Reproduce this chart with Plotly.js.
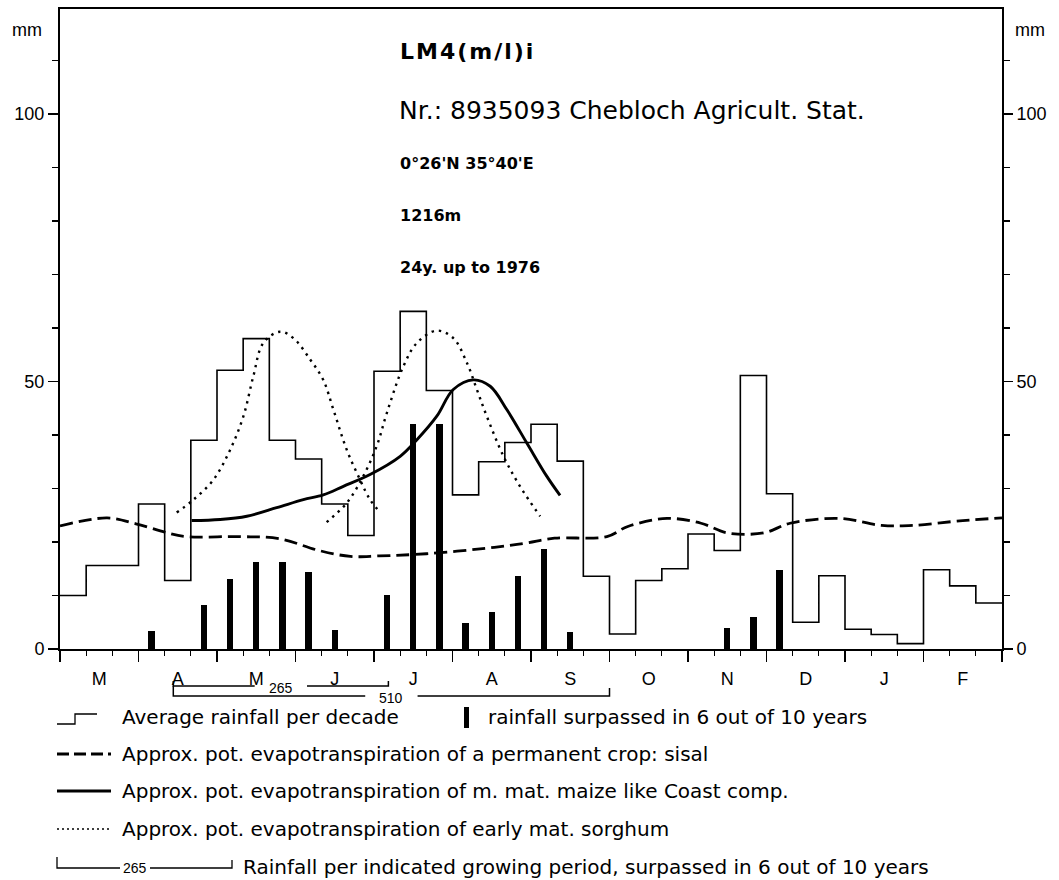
<!DOCTYPE html>
<html>
<head>
<meta charset="utf-8">
<script src="https://cdn.plot.ly/plotly-3.0.1.min.js"></script>
<style>html,body{margin:0;padding:0;background:#fff;}#chart{width:1059px;height:880px;}</style>
</head>
<body>
<div id="chart"></div>
<script>
// ---- data ----
const monthLabels = ['M','A','M','J','J','A','S','O','N','D','J','F'];
// average rainfall per decade (mm), 36 decades March..February
const avgRain = [10,15.6,15.6,27.1,12.8,39,52.1,58,39,35.5,27.1,21.2,
                 51.9,63.1,48.3,28.8,35,38.6,42,35.1,13.6,2.8,12.8,15,
                 21.5,18.4,51.1,29,5,13.7,3.7,2.7,1,14.8,11.8,8.6];
// rainfall surpassed in 6 out of 10 years (mm), per decade
const rain60 = [0,0,0,3.3,0,8.2,13.1,16.2,16.2,14.4,3.5,0,
                10,42.1,42.1,4.9,7,13.6,18.6,3.1,0,0,0,0,
                0,3.9,5.9,14.7,0,0,0,0,0,0,0,0];
// sisal (permanent crop) evapotranspiration; x in decades from 1 March
const sisalX = [0,1.8,2.9,4.1,4.8,6.9,8.4,9.9,11.1,12.2,14.0,16.6,17.8,18.9,20.9,21.7,23.2,24.5,25.5,26.9,27.9,29.8,31.4,32.6,34.5,36];
const sisalY = [23,24.5,23.4,21.7,21,21,20.6,18.4,17.3,17.4,17.8,19,19.8,20.7,21,22.9,24.4,23.5,21.7,21.7,23.5,24.4,23.1,23.1,24,24.5];
// medium maturity maize
const maizeX = [5.03,6.12,7.14,8.28,9.30,10.06,10.83,11.85,13.0,13.64,14.40,15.03,15.80,16.44,17.08,17.84,18.60,19.11];
const maizeY = [24.0,24.2,24.8,26.4,27.9,28.8,30.4,32.6,36,39.1,43.5,48.5,50.3,49.1,44.7,38.5,32.3,28.7];
// early maturity sorghum, first and second season
const sorg1X = [4.46,5.10,5.86,6.50,7.01,7.39,7.77,8.41,8.92,9.56,10.06,10.45,10.96,11.47,11.85,12.21];
const sorg1Y = [25.5,27.9,31.6,37.2,43.5,51,57.2,59.3,58.1,54.1,50.3,44.7,37.2,31.6,27.9,25.7];
const sorg2X = [10.19,10.96,11.59,12.11,12.49,13.12,13.64,14.40,15.03,15.55,15.93,16.31,16.95,17.58,18.35];
const sorg2Y = [23.7,27.3,32.3,38,44.1,52.8,57.2,59.5,58.1,53.5,48.5,43.5,36,30.4,24.8];
// rainfall per indicated growing period (mm)
const periodValues = [265, 510];
const periodStart = [4.33, 4.33];
const periodEnd = [12.55, 21.0];
const yTickVals = [0, 50, 100];

// ---- layout geometry ----
const G = {W:1059, H:880, l:60, r:57, t:9, b:231};
const PW = G.W - G.l - G.r, PH = G.H - G.t - G.b;
const PX = x => (x - G.l) / PW;
const PY = y => (G.H - G.b - y) / PH;
const YMAX = 119.6;
const FONT = 'Liberation Sans, Arial, sans-serif';
const WIDE = 'DejaVu Sans, sans-serif';

const nDec = avgRain.length;
const decEdges = Array.from({length: nDec + 1}, (_, i) => i);
const decCenters = Array.from({length: nDec}, (_, i) => i + 0.5);
const monthEdges = Array.from({length: monthLabels.length + 1}, (_, i) => i * 3);
const monthCenters = monthLabels.map((_, i) => i * 3 + 1.5);

const dotted = {shape:'spline', smoothing:1, color:'#000', width:2.4, dash:'2.4px,5px'};
const traces = [
  {type:'bar', x: decCenters, y: rain60, width: 0.24, marker:{color:'#000', line:{width:0}},
   hoverinfo:'x+y', showlegend:false},
  {type:'scatter', mode:'lines', x: decEdges, y: avgRain.concat([avgRain[nDec-1]]),
   line:{shape:'hv', color:'#000', width:1.6}, showlegend:false},
  {type:'scatter', mode:'lines', x: sisalX, y: sisalY,
   line:{shape:'spline', smoothing:1, color:'#000', width:2.8, dash:'13px,6px'}, showlegend:false},
  {type:'scatter', mode:'lines', x: maizeX, y: maizeY,
   line:{shape:'spline', smoothing:1, color:'#000', width:2.9}, showlegend:false},
  {type:'scatter', mode:'lines', x: sorg1X, y: sorg1Y, line: dotted, showlegend:false},
  {type:'scatter', mode:'lines', x: sorg2X, y: sorg2Y, line: dotted, showlegend:false},
  {type:'scatter', mode:'markers', x:[0], y:[0], xaxis:'x2', yaxis:'y2',
   marker:{opacity:0}, hoverinfo:'skip', showlegend:false}
];

const shapes = [];
const annotations = [];

// growing-period brackets under the axis (line broken around the value label)
const bracketTop = [681, 686], bracketLine = [686, 696], bracketRightTop = [681, 688];
const labelGap = 1.0; // half-gap in decades around the label
periodValues.forEach((v, i) => {
  const mid = (periodStart[i] + periodEnd[i]) / 2;
  const yl = PY(bracketLine[i]);
  shapes.push({type:'path', xref:'x', yref:'paper',
    path:`M ${periodStart[i]},${PY(bracketTop[i])} L ${periodStart[i]},${yl} L ${mid - labelGap},${yl}`,
    line:{color:'#000', width:1.5}});
  shapes.push({type:'path', xref:'x', yref:'paper',
    path:`M ${mid + labelGap},${yl} L ${periodEnd[i]},${yl} L ${periodEnd[i]},${PY(bracketRightTop[i])}`,
    line:{color:'#000', width:1.5}});
  annotations.push({xref:'x', yref:'paper', x:mid, y:PY(bracketLine[i] + 1.5),
    text:String(v), showarrow:false, font:{family:FONT, size:14, color:'#000'},
    borderpad:0, xanchor:'center', yanchor:'middle'});
});

// header texts
function txt(text, x, y, size, family, extra) {
  annotations.push(Object.assign({xref:'paper', yref:'paper', x:PX(x), y:PY(y), text:text,
    showarrow:false, xanchor:'left', yanchor:'middle', align:'left',
    font:{family:family||WIDE, size:size, color:'#000'}}, extra||{}));
}
txt('<b>LM4(m/l)i</b>', 398, 51, 22);
txt('Nr.: 8935093 Chebloch Agricult. Stat.', 397, 110, 25);
txt('<b>0°26\'N 35°40\'E</b>', 398, 163, 16);
txt('<b>1216m</b>', 398, 215, 16);
txt('<b>24y. up to 1976</b>', 398, 267, 16);
txt('mm', 27, 30, 18, FONT, {xanchor:'center', align:'center'});
txt('mm', 1030, 30, 18, FONT, {xanchor:'center', align:'center'});

// legend
const LF = 20;
function seg(x0, y0, x1, y1, w, dash) {
  shapes.push({type:'line', xref:'paper', yref:'paper', x0:PX(x0), y0:PY(y0), x1:PX(x1), y1:PY(y1),
    line:{color:'#000', width:w, dash:dash||'solid'}});
}
// row 1
shapes.push({type:'path', xref:'paper', yref:'paper',
  path:`M ${PX(57)},${PY(724)} L ${PX(75)},${PY(724)} L ${PX(75)},${PY(714)} L ${PX(97)},${PY(714)}`,
  line:{color:'#000', width:1.3}});
txt('Average rainfall per decade', 120, 717, LF);
shapes.push({type:'rect', xref:'paper', yref:'paper', x0:PX(464), x1:PX(469), y0:PY(707), y1:PY(728),
  fillcolor:'#000', line:{width:0}});
txt('rainfall surpassed in 6 out of 10 years', 486, 717, LF);
// row 2
seg(57, 754, 111, 754, 3, '12px,5px');
txt('Approx. pot. evapotranspiration of a permanent crop: sisal', 120, 754, LF);
// row 3
seg(57, 791, 111, 791, 3);
txt('Approx. pot. evapotranspiration of m. mat. maize like Coast comp.', 120, 791, LF);
// row 4
seg(57, 829, 111, 829, 1.5, '2px,3px');
txt('Approx. pot. evapotranspiration of early mat. sorghum', 120, 829, LF);
// row 5
shapes.push({type:'path', xref:'paper', yref:'paper',
  path:`M ${PX(57)},${PY(857)} L ${PX(57)},${PY(868)} L ${PX(120)},${PY(868)} M ${PX(150)},${PY(868)} L ${PX(232)},${PY(868)} L ${PX(232)},${PY(860)}`,
  line:{color:'#000', width:1.3}});
annotations.push({xref:'paper', yref:'paper', x:PX(135), y:PY(868), text:String(periodValues[0]),
  showarrow:false, font:{family:FONT, size:14, color:'#000'}, borderpad:0,
  xanchor:'center', yanchor:'middle'});
txt('Rainfall per indicated growing period, surpassed in 6 out of 10 years', 241, 867, LF);

const axBase = {showgrid:false, zeroline:false, fixedrange:true};
const layout = {
  width:G.W, height:G.H, margin:{l:G.l, r:G.r, t:G.t, b:G.b, pad:0},
  paper_bgcolor:'#fff', plot_bgcolor:'#fff', showlegend:false, bargap:0,
  font:{family:FONT, color:'#000', size:18},
  xaxis: Object.assign({}, axBase, {range:[0, nDec], showline:true, linecolor:'#000', linewidth:2, mirror:true,
    tickmode:'array', tickvals: monthEdges, ticks:'outside', ticklen:11, tickwidth:1.5, tickcolor:'#000',
    showticklabels:false,
    minor:{tickmode:'array', tickvals: decEdges, ticks:'outside', ticklen:5, tickwidth:1.2, tickcolor:'#000', showgrid:false}}),
  xaxis2: Object.assign({}, axBase, {overlaying:'x', anchor:'y', side:'bottom', range:[0, nDec], showline:false,
    tickmode:'array', tickvals: monthCenters, ticktext: monthLabels, ticks:'outside', ticklen:13,
    tickcolor:'rgba(0,0,0,0)', tickfont:{family:FONT, size:18, color:'#000'}}),
  yaxis: Object.assign({}, axBase, {range:[0, YMAX], showline:true, linecolor:'#000', linewidth:2,
    tickmode:'array', tickvals: yTickVals, ticks:'outside', ticklen:10, tickwidth:1.5, tickcolor:'#000',
    tickfont:{family:FONT, size:18, color:'#000'},
    minor:{dtick:10, tick0:0, ticks:'outside', ticklen:6, tickwidth:1.2, tickcolor:'#000', showgrid:false}}),
  yaxis2: Object.assign({}, axBase, {overlaying:'y', anchor:'x', side:'right', range:[0, YMAX], showline:true,
    linecolor:'#000', linewidth:2, tickmode:'array', tickvals: yTickVals, ticks:'outside', ticklen:9,
    tickwidth:1.5, tickcolor:'#000', tickfont:{family:FONT, size:18, color:'#000'},
    minor:{dtick:10, tick0:0, ticks:'outside', ticklen:6, tickwidth:1.2, tickcolor:'#000', showgrid:false}}),
  shapes: shapes,
  annotations: annotations
};

Plotly.newPlot('chart', traces, layout, {staticPlot:true, displayModeBar:false}).then(() => {
  document.querySelectorAll('.annotation-text').forEach(el => {
    if (el.textContent === 'LM4(m/l)i') el.style.letterSpacing = '2px';
  });
});
</script>
</body>
</html>
